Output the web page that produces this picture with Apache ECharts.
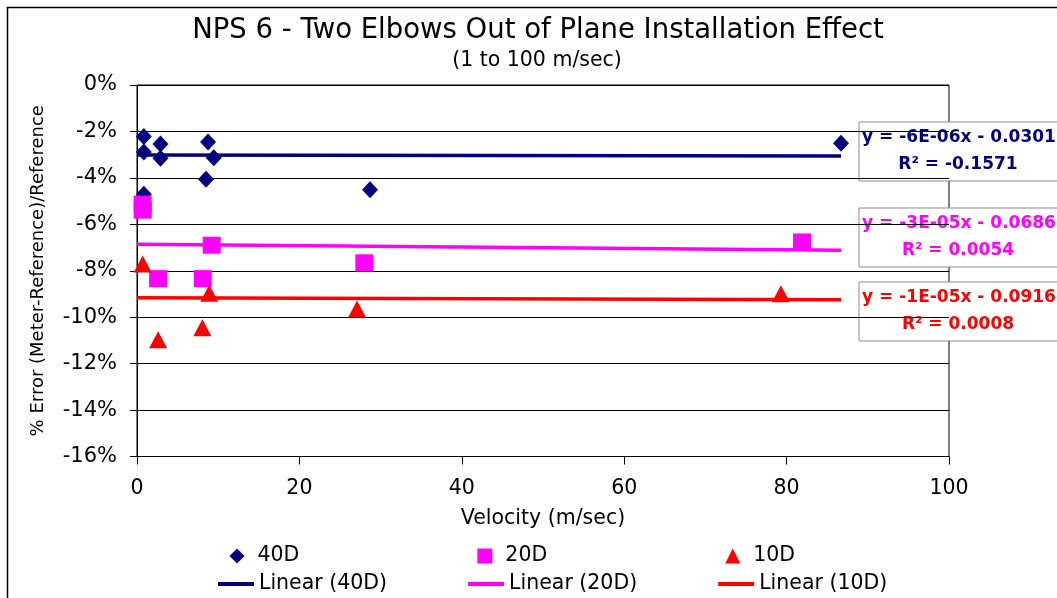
<!DOCTYPE html>
<html lang="en">
<head>
    <meta charset="UTF-8">
    <title>NPS 6 - Two Elbows Out of Plane</title>
    <script src="https://cdn.jsdelivr.net/npm/echarts@6/dist/echarts.min.js"></script>
</head>
<body style="margin:0;background:#fff;">
<div id="main" style="width: 1057px;height:598px;"></div>
</body>

<script type="text/javascript">

    // measured points, x = velocity (m/sec), y = % error
    var pts40D = [
        [0.84, -2.22], [0.84, -2.89], [2.89, -2.54], [2.89, -3.15], [8.75, -2.45],
        [9.45, -3.13], [8.5, -4.06], [0.84, -4.70], [28.7, -4.51], [86.7, -2.51]
    ];
    var pts20D = [
        [0.7, -5.13], [0.7, -5.39], [9.2, -6.90], [2.6, -8.34], [8.1, -8.34],
        [28.0, -7.66], [81.9, -6.76]
    ];
    var pts10D = [
        [0.7, -7.71], [2.6, -10.97], [8.9, -8.97], [8.05, -10.45], [27.1, -9.65], [79.3, -8.99]
    ];

    // trendline ends (from the Excel fit equations)
    var trendX = [0, 86.7];
    var trend40D = [-3.01, -3.062];
    var trend20D = [-6.86, -7.12];
    var trend10D = [-9.16, -9.247];

    var fitText = [
        ['y = -6E-06x - 0.0301', 'R² = -0.1571'],
        ['y = -3E-05x - 0.0686', 'R² = 0.0054'],
        ['y = -1E-05x - 0.0916', 'R² = 0.0008']
    ];

    var xTicks = [0, 20, 40, 60, 80, 100];
    var yTicks = [0, -2, -4, -6, -8, -10, -12, -14, -16];

    var navy = '#000080', pink = '#ff00ff', red = '#ff0000';
    var font = 'DejaVu Sans';

    var line = function (ys) {
        return [[trendX[0], ys[0]], [trendX[1], ys[1]]];
    };

    var fitBox = function (i, top, color) {
        return {
            type: 'group',
            z: 100,
            children: [
                {
                    type: 'rect',
                    shape: {x: 859, y: top, width: 230, height: 59},
                    style: {fill: '#fff', stroke: '#8c8c8c', lineWidth: 1}
                },
                {
                    type: 'text',
                    x: 959, y: top + 16,
                    style: {
                        text: fitText[i][0], fill: color, font: 'bold 17px "' + font + '"',
                        align: 'center', verticalAlign: 'middle'
                    }
                },
                {
                    type: 'text',
                    x: 958, y: top + 43,
                    style: {
                        text: fitText[i][1], fill: color, font: 'bold 17px "' + font + '"',
                        align: 'center', verticalAlign: 'middle'
                    }
                }
            ]
        };
    };

    var option = {
        backgroundColor: '#fff',
        animation: false,
        textStyle: {fontFamily: font, color: '#000'},
        title: [
            {
                text: 'NPS 6 - Two Elbows Out of Plane Installation Effect',
                left: 533, top: 12, textAlign: 'center',
                textStyle: {fontFamily: font, fontSize: 27.5, fontWeight: 'normal', color: '#000'}
            },
            {
                text: '(1 to 100 m/sec)',
                left: 532, top: 45, textAlign: 'center',
                textStyle: {fontFamily: font, fontSize: 20.5, fontWeight: 'normal', color: '#000'}
            }
        ],
        grid: {
            left: 137, right: 108, top: 85, bottom: 141.5,
            show: true, borderColor: '#000', borderWidth: 1, backgroundColor: '#fff'
        },
        xAxis: {
            type: 'value',
            min: xTicks[0], max: xTicks[xTicks.length - 1], interval: 20,
            name: 'Velocity (m/sec)', nameLocation: 'middle', nameGap: 52,
            nameTextStyle: {fontFamily: font, fontSize: 20.5, color: '#000'},
            axisLine: {onZero: false, lineStyle: {color: '#000', width: 1}},
            axisTick: {show: true, inside: false, length: 8, lineStyle: {color: '#000'}},
            axisLabel: {fontFamily: font, fontSize: 20.5, color: '#000', margin: 22},
            splitLine: {show: false}
        },
        yAxis: {
            type: 'value',
            min: yTicks[yTicks.length - 1], max: yTicks[0], interval: 2,
            name: '% Error (Meter-Reference)/Reference', nameLocation: 'middle', nameGap: 90,
            nameTextStyle: {fontFamily: font, fontSize: 18, color: '#000'},
            axisLine: {show: true, onZero: false, lineStyle: {color: '#000', width: 1}},
            axisTick: {show: true, inside: false, length: 7, lineStyle: {color: '#000'}},
            axisLabel: {fontFamily: font, fontSize: 21, color: '#000', margin: 20, formatter: '{value}%'},
            splitLine: {show: true, lineStyle: {color: '#000', width: 1}}
        },
        legend: [
            {
                left: 229.5, top: 545, padding: 0, itemWidth: 15, itemHeight: 15, itemGap: 178,
                textStyle: {fontFamily: font, fontSize: 20.5, color: '#000', lineHeight: 22, padding: [0, 0, 0, 8]},
                data: [
                    {name: '40D', icon: 'diamond'},
                    {name: '20D', icon: 'rect'},
                    {name: '10D', icon: 'triangle'}
                ]
            },
            {
                left: 218, top: 573, padding: 0, itemWidth: 36, itemHeight: 4, itemGap: 81,
                textStyle: {fontFamily: font, fontSize: 20.5, color: '#000', lineHeight: 22},
                data: [
                    {name: 'Linear (40D)', icon: 'rect'},
                    {name: 'Linear (20D)', icon: 'rect'},
                    {name: 'Linear (10D)', icon: 'rect'}
                ]
            }
        ],
        series: [
            {
                name: 'Linear (40D)', type: 'line', data: line(trend40D), symbol: 'none',
                itemStyle: {color: navy}, lineStyle: {color: navy, width: 3.5}, z: 2
            },
            {
                name: 'Linear (20D)', type: 'line', data: line(trend20D), symbol: 'none',
                itemStyle: {color: pink}, lineStyle: {color: pink, width: 3.5}, z: 2
            },
            {
                name: 'Linear (10D)', type: 'line', data: line(trend10D), symbol: 'none',
                itemStyle: {color: red}, lineStyle: {color: red, width: 3.5}, z: 2
            },
            {
                name: '40D', type: 'scatter', data: pts40D, symbol: 'diamond', symbolSize: [16, 17],
                itemStyle: {color: navy, opacity: 1}, z: 3
            },
            {
                name: '20D', type: 'scatter', data: pts20D, symbol: 'rect', symbolSize: [18, 17],
                itemStyle: {color: pink, opacity: 1}, z: 4
            },
            {
                name: '10D', type: 'scatter', data: pts10D, symbol: 'triangle', symbolSize: [18, 17],
                itemStyle: {color: red, opacity: 1}, z: 5
            }
        ],
        graphic: [
            {
                type: 'rect', z: -1, silent: true,
                shape: {x: 7.5, y: 7.5, width: 1100, height: 700},
                style: {fill: 'none', stroke: '#000', lineWidth: 1.5}
            },
            fitBox(0, 122, navy),
            fitBox(1, 208, pink),
            fitBox(2, 282, red)
        ]
    };

    var myChart = echarts.init(document.getElementById('main'));
    myChart.setOption(option);

</script>
</html>
